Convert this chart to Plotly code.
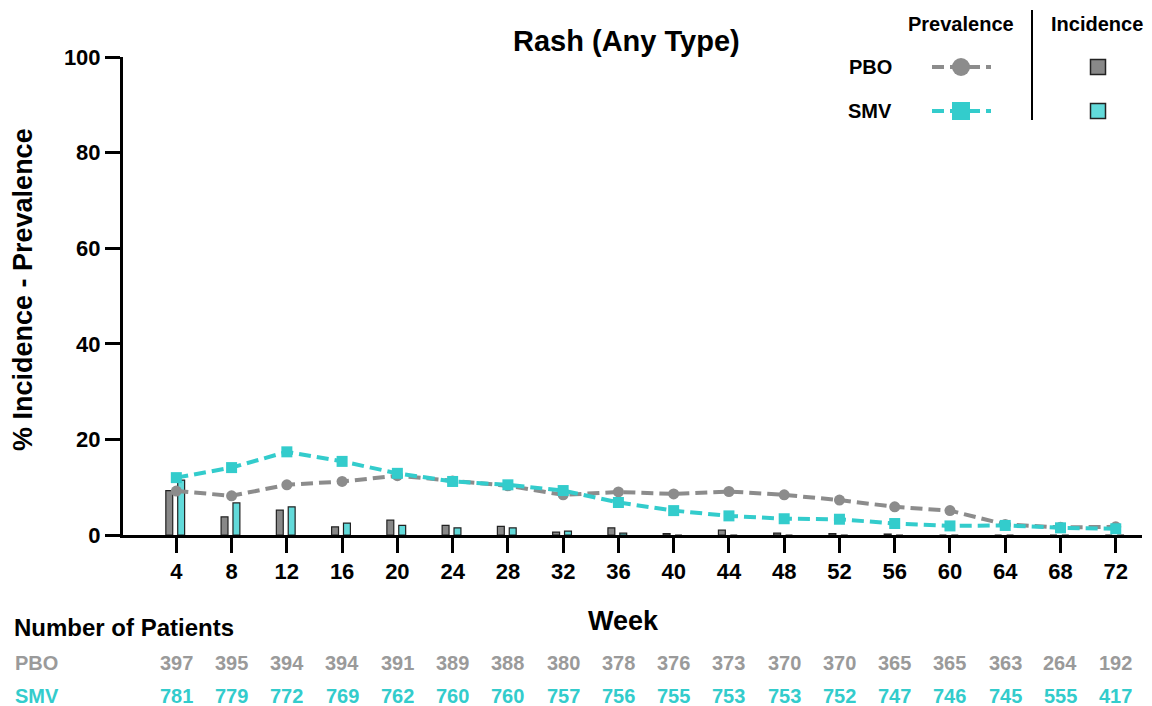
import plotly.graph_objects as go

# ---- data ----
weeks = [4, 8, 12, 16, 20, 24, 28, 32, 36, 40, 44, 48, 52, 56, 60, 64, 68, 72]

pbo_prevalence = [9.2, 8.2, 10.5, 11.2, 12.4, 11.3, 10.3, 8.4, 9.0, 8.6, 9.1, 8.4, 7.3, 5.9, 5.1, 2.2, 1.6, 1.7]
smv_prevalence = [12.0, 14.1, 17.4, 15.4, 12.9, 11.2, 10.5, 9.3, 6.8, 5.1, 4.0, 3.4, 3.3, 2.4, 1.9, 2.0, 1.5, 1.3]

pbo_incidence = [9.3, 3.8, 5.2, 1.7, 3.1, 2.0, 1.8, 0.6, 1.5, 0.3, 1.0, 0.4, 0.3, 0.2, 0.0, 0.0, 0.0, 0.0]
smv_incidence = [11.5, 6.7, 5.9, 2.5, 2.0, 1.5, 1.5, 0.8, 0.4, 0.0, 0.0, 0.0, 0.0, 0.0, 0.0, 0.0, 0.0, 0.0]

pbo_n = [397, 395, 394, 394, 391, 389, 388, 380, 378, 376, 373, 370, 370, 365, 365, 363, 264, 192]
smv_n = [781, 779, 772, 769, 762, 760, 760, 757, 756, 755, 753, 753, 752, 747, 746, 745, 555, 417]

groups = ["PBO", "SMV"]

# ---- styling ----
GRAY = "#8c8c8c"
GRAY_TXT = "#9a9a9a"
TEAL = "#33cccc"
GRAY_BAR = "#888888"
TEAL_BAR = "#62dada"
EDGE = "#222222"
FONT = "Liberation Sans"

W, H = 1152, 706
L, R, T, B = 123, 1142, 57, 535  # plot-area edges in pixels


def px(xp):
    return (xp - L) / (R - L)


def py(yp):
    return (B - yp) / (B - T)


fig = go.Figure()

# incidence bars
fig.add_trace(go.Bar(x=weeks, y=pbo_incidence, width=0.5, offset=-0.76,
                     marker=dict(color=GRAY_BAR, line=dict(color=EDGE, width=1.2)),
                     name="PBO incidence", showlegend=False))
fig.add_trace(go.Bar(x=weeks, y=smv_incidence, width=0.5, offset=0.1,
                     marker=dict(color=TEAL_BAR, line=dict(color=EDGE, width=1.2)),
                     name="SMV incidence", showlegend=False))

# prevalence lines
fig.add_trace(go.Scatter(x=weeks, y=pbo_prevalence, mode="lines+markers",
                         line=dict(color=GRAY, width=4, dash="12px,6px"),
                         marker=dict(symbol="circle", size=11, color=GRAY),
                         name="PBO prevalence", showlegend=False))
fig.add_trace(go.Scatter(x=weeks, y=smv_prevalence, mode="lines+markers",
                         line=dict(color=TEAL, width=4, dash="12px,6px"),
                         marker=dict(symbol="square", size=11, color=TEAL),
                         name="SMV prevalence", showlegend=False))

fig.update_layout(
    width=W, height=H,
    margin=dict(l=L, r=W - R, t=T, b=H - B, pad=0),
    plot_bgcolor="white", paper_bgcolor="white",
    barmode="overlay",
    font=dict(family=FONT, color="black"),
    xaxis=dict(range=[0.14, 73.9], tickmode="array", tickvals=weeks,
               ticktext=[str(w) for w in weeks],
               showline=True, linecolor="black", linewidth=3,
               ticks="outside", ticklen=15, tickwidth=3, tickcolor="black",
               showgrid=False, zeroline=False,
               tickfont=dict(size=22, family=FONT, weight="bold", color="black")),
    yaxis=dict(range=[0, 100], tickvals=[0, 20, 40, 60, 80, 100],
               showline=True, linecolor="black", linewidth=3,
               ticks="outside", ticklen=15, tickwidth=3, tickcolor="black",
               showgrid=False, zeroline=False,
               tickfont=dict(size=22, family=FONT, weight="bold", color="black")),
)

ann = []


def text(x, y, s, size, color="black", xanchor="center", xref="paper", angle=0):
    ann.append(dict(x=x, y=y, xref=xref, yref="paper", text=s, showarrow=False,
                    xanchor=xanchor, yanchor="middle", textangle=angle,
                    font=dict(family=FONT, size=size, color=color, weight="bold")))


# titles
text(px(626), py(41), "Rash (Any Type)", 29)
text(px(623), py(621), "Week", 27)
text(px(23), py(290), "% Incidence - Prevalence", 27, angle=-90)

# patient-count table
text(px(12), py(627), "Number of Patients", 24, xanchor="left")
text(px(13), py(663), "PBO", 20, color=GRAY_TXT, xanchor="left")
text(px(13), py(696), "SMV", 20, color=TEAL, xanchor="left")
for w, n1, n2 in zip(weeks, pbo_n, smv_n):
    text(w, py(663), str(n1), 20, color=GRAY_TXT, xref="x")
    text(w, py(696), str(n2), 20, color=TEAL, xref="x")

# legend table
text(px(961), py(24), "Prevalence", 20)
text(px(1097), py(24), "Incidence", 20)
text(px(870), py(67), groups[0], 20)
text(px(870), py(111), groups[1], 20)

shapes = []
# divider between legend columns
shapes.append(dict(type="line", xref="paper", yref="paper",
                   x0=px(1032), x1=px(1032), y0=py(10), y1=py(120),
                   line=dict(color="black", width=2)))

for yy, col, bar_col, sym in [(67, GRAY, GRAY_BAR, "circle"), (111, TEAL, TEAL_BAR, "rect")]:
    shapes.append(dict(type="line", xref="paper", yref="paper",
                       x0=px(932), x1=px(991), y0=py(yy), y1=py(yy),
                       line=dict(color=col, width=4, dash="12px,6px")))
    if sym == "circle":
        shapes.append(dict(type="circle", xref="paper", yref="paper",
                           xsizemode="pixel", ysizemode="pixel",
                           xanchor=px(961), yanchor=py(yy),
                           x0=-9, x1=9, y0=-9, y1=9,
                           fillcolor=col, line=dict(width=0)))
    else:
        shapes.append(dict(type="rect", xref="paper", yref="paper",
                           xsizemode="pixel", ysizemode="pixel",
                           xanchor=px(961), yanchor=py(yy),
                           x0=-9, x1=9, y0=-9, y1=9,
                           fillcolor=col, line=dict(width=0)))
    shapes.append(dict(type="rect", xref="paper", yref="paper",
                       xsizemode="pixel", ysizemode="pixel",
                       xanchor=px(1098), yanchor=py(yy),
                       x0=-7.5, x1=7.5, y0=-7.5, y1=7.5,
                       fillcolor=bar_col, line=dict(color=EDGE, width=1.5)))

fig.update_layout(annotations=ann, shapes=shapes)

fig.write_html("out.html")
